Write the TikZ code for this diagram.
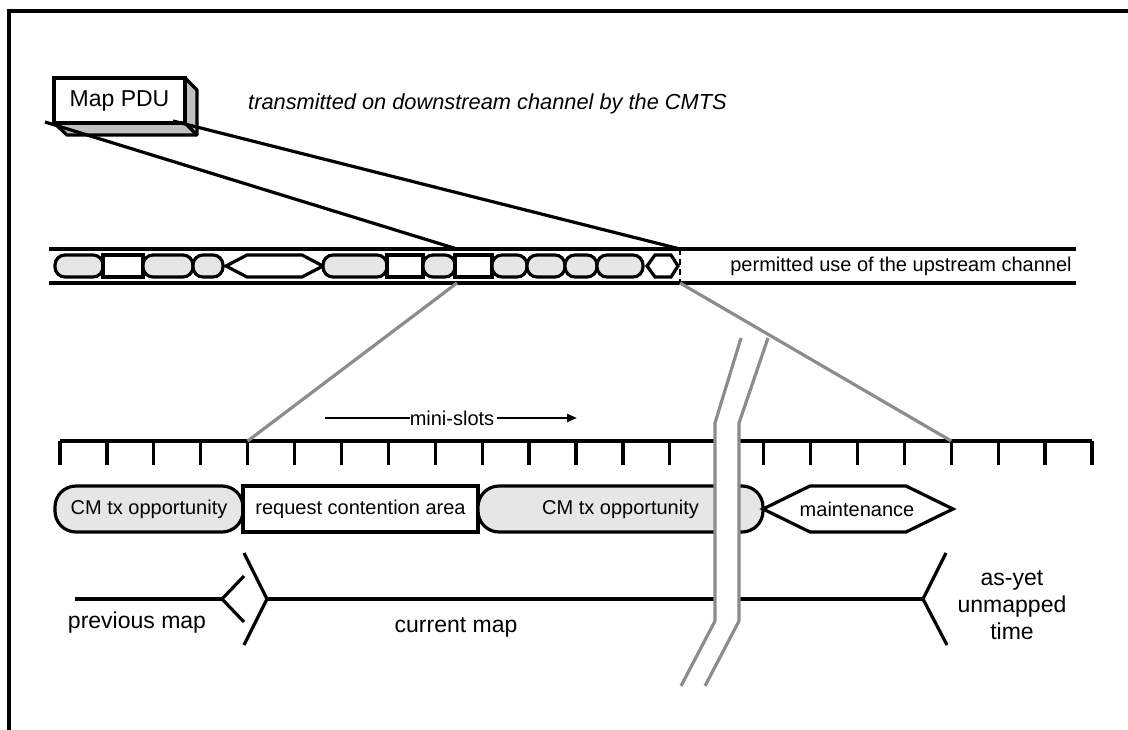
\documentclass[tikz,border=0pt]{standalone}
\usepackage{fontspec}
\setmainfont{Liberation Sans}
\usetikzlibrary{arrows.meta}
\definecolor{slotgray}{HTML}{E6E6E6}
\definecolor{zoomgray}{HTML}{8C8C8C}
\definecolor{boxgray}{HTML}{C0C0C0}
\newcommand\bandG[2]{\draw[slotg] (#1,255) rectangle (#2,277);}
\newcommand\bandW[2]{\draw[slotw] (#1,255) rectangle (#2,277);}
\newcommand\bandH[4]{\draw[slotw] (#1,266) -- (#2,255) -- (#3,255) -- (#4,266) -- (#3,277) -- (#2,277) -- cycle;}
\begin{document}
\begin{tikzpicture}[x=1pt,y=-1pt,
  blk/.style={line width=3.2pt, draw=black},
  gline/.style={line width=3.2pt, draw=zoomgray},
  slotg/.style={blk, fill=slotgray, rounded corners=10pt},
  slotw/.style={blk, fill=white},
  lbl/.style={font=\fontsize{20}{24}\selectfont, inner sep=0pt},
  biglbl/.style={font=\fontsize{23}{27}\selectfont, inner sep=0pt},
  bigslotg/.style={blk, fill=slotgray, rounded corners=21pt, minimum height=46pt, inner sep=0pt, font=\fontsize{20}{24}\selectfont},
  bigslotw/.style={blk, fill=white, minimum height=46pt, inner sep=0pt, font=\fontsize{20}{24}\selectfont},
]
\useasboundingbox (0,0) rectangle (1128,730);
% frame
\draw[line width=3.4pt] (9,730) -- (9,11) -- (1128,11);

% Map PDU box (3D)
\fill[boxgray] (185,78) -- (197,90) -- (197,135) -- (185,123) -- cycle;
\fill[boxgray] (54,123) -- (185,123) -- (197,135) -- (67,135) -- cycle;
\draw[blk, line join=round] (185,78) -- (197,90) -- (197,135) -- (67,135) -- (54,123);
\draw[blk] (185,123) -- (197,135);
\node[blk, fill=white, minimum width=131pt, minimum height=45pt, inner sep=0pt,
      font=\fontsize{23}{27}\selectfont] (pdu) at (119.5,100.5) {Map PDU};
\coordinate (pduA) at (45,122);
\coordinate (pduB) at (173,121);

\node[lbl, anchor=west, font=\fontsize{21.8}{26}\selectfont\itshape] (tx) at (248,104)
  {transmitted on downstream channel by the CMTS};

% upstream band
\draw[blk] (49,249) -- (1076,249);
\draw[blk] (49,283) -- (1076,283);
\bandG{55}{103}
\bandW{103}{143}
\bandG{143}{193}
\bandG{193}{223}
\bandH{226}{247}{302}{323}
\bandG{323}{387}
\bandW{387}{423}
\bandG{423}{455}
\bandW{455}{492}
\bandG{492}{527}
\bandG{527}{565}
\bandG{565}{597}
\bandG{597}{643}
\bandH{647}{655}{671}{678}
\coordinate (bT1) at (457,249);
\coordinate (bB1) at (457,283);
\coordinate (bT2) at (680,249);
\coordinate (bB2) at (680,283);
\draw[blk, line width=2.6pt, dash pattern=on 6pt off 4pt] (bT2) -- (bB2);
\node[lbl] (perm) at (901,266) {permitted use of the upstream channel};

% lines from map PDU to band
\draw[blk] (pduA) -- (bT1);
\draw[blk] (pduB) -- (bT2);

% ruler
\draw[blk] (60,441) -- (1092,441);
\foreach \i in {0,...,22}{
  \coordinate (t\i) at ({60+46.909*\i},441);
  \draw[blk] (t\i) -- ++(0,24);
}
% zoom lines
\draw[gline] (bB1) -- (t4);
\draw[gline] (bB2) -- (t19);

% mini-slots
\node[lbl] (ms) at (452,418) {mini-slots};
\coordinate (msL) at (325,418);
\coordinate (msR) at (577,418);
\draw[blk, line width=2.6pt] (msL) -- (ms.west);
\draw[blk, line width=2.6pt, -{Triangle[length=10pt,width=8pt]}] (ms.east) ++(3,0) -- (msR);

% bottom slots
\node[bigslotg, minimum width=188pt] (cm1) at (149,509) {CM tx opportunity};
\node[bigslotw, minimum width=235pt] (rca) at (360.5,509) {request contention area};
\node[bigslotg, minimum width=285pt] (cm2) at (620.5,509) {CM tx opportunity};
\draw[blk, fill=white] (763,509) -- (810,486) -- (906,486) -- (953,509) -- (906,532) -- (810,532) -- cycle;
\node[lbl] (mnt) at (857,509) {maintenance};

% map lines
\coordinate (pmL) at (75,599);
\coordinate (pmTip) at (222,599);
\coordinate (cmTip) at (267,599);
\coordinate (uTip) at (923,599);
\draw[blk] (pmL) -- (pmTip);
\draw[blk] (244,576) -- (pmTip) -- (244,622);
\draw[blk] (244,553) -- (cmTip) -- (244,645);
\draw[blk] (cmTip) -- (uTip);
\draw[blk] (946,553) -- (uTip) -- (947,645);
\node[biglbl] (prev) at (137,623) {previous map};
\node[biglbl] (curr) at (456,627) {current map};
\node[biglbl, align=center, font=\fontsize{23}{27}\selectfont] (unm) at (1012,605) {as-yet\\unmapped\\time};

% break
\fill[white] (741,338) -- (715,423) -- (715,621) -- (681,686) -- (705,686) -- (739,621) -- (739,423) -- (768,338) -- cycle;
\draw[gline] (741,338) -- (715,423) -- (715,621) -- (681,686);
\draw[gline] (768,338) -- (739,423) -- (739,621) -- (705,686);
\end{tikzpicture}
\end{document}
